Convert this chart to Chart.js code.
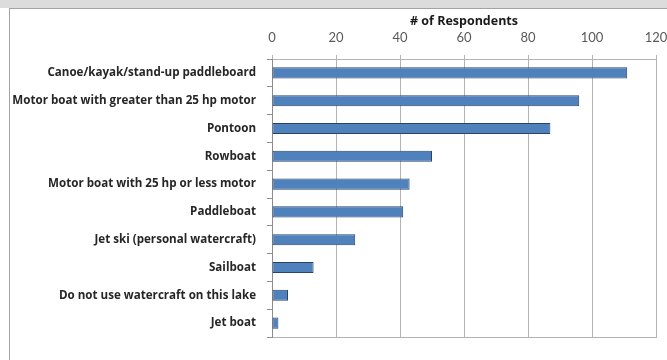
<!DOCTYPE html>
<html>
<head>
<meta charset="utf-8">
<script src="https://cdn.jsdelivr.net/npm/chart.js@4.4.1/dist/chart.umd.min.js"></script>
<style>
  html, body { margin: 0; padding: 0; background: #ffffff; }
  #page { position: relative; width: 667px; height: 360px; overflow: hidden; background: #ffffff; }
  #band { position: absolute; left: 0; top: 0; width: 667px; height: 8px; background: #dcdcdc; }
  #frame { position: absolute; left: 9px; top: 8px; width: 700px; height: 400px;
           border-top: 1.5px solid #a3a3a3; border-left: 1.5px solid #a3a3a3; }
  canvas { position: absolute; left: 0; top: 0; }
</style>
</head>
<body>
<div id="page">
  <div id="band"></div>
  <div id="frame"></div>
  <canvas id="chart" width="667" height="360"></canvas>
</div>
<script>
// Watercraft used on the lake, by number of respondents
const categories = [
  'Canoe/kayak/stand-up paddleboard',
  'Motor boat with greater than 25 hp motor',
  'Pontoon',
  'Rowboat',
  'Motor boat with 25 hp or less motor',
  'Paddleboat',
  'Jet ski (personal watercraft)',
  'Sailboat',
  'Do not use watercraft on this lake',
  'Jet boat'
];
const respondents = [111, 96, 87, 50, 43, 41, 26, 13, 5, 2];
const axisTitle = '# of Respondents';
const axisMin = 0;
const axisMax = 120;
const axisStep = 20;

const gridGray = '#b4b4b4';
const axisGray = '#8c8c8c';

new Chart(document.getElementById('chart'), {
  type: 'bar',
  data: {
    labels: categories,
    datasets: [{
      data: respondents,
      backgroundColor: '#4f81bd',
      borderColor: '#2a4466',
      borderWidth: 1,
      borderSkipped: false,
      barPercentage: 0.4,
      categoryPercentage: 1.0
    }]
  },
  options: {
    indexAxis: 'y',
    responsive: false,
    devicePixelRatio: 1,
    animation: false,
    layout: { padding: { top: 0, left: 0, right: 11, bottom: 23 } },
    plugins: { legend: { display: false }, tooltip: { enabled: false } },
    scales: {
      x: {
        position: 'top',
        min: axisMin,
        max: axisMax,
        ticks: {
          stepSize: axisStep,
          padding: 9,
          color: '#595959',
          font: { family: 'Lato', size: 13 }
        },
        grid: { color: gridGray, lineWidth: 1, tickLength: 4, tickColor: gridGray },
        border: { display: true, color: gridGray, width: 1 },
        title: {
          display: true,
          text: axisTitle,
          color: '#1a1a1a',
          font: { family: 'Open Sans', size: 12.5, weight: 'bold' },
          padding: { top: 14, bottom: 0 }
        },
        afterFit: (scale) => {
          scale.height = 59;
          scale.paddingLeft = 0;
          scale.paddingRight = 0;
        }
      },
      xBottom: {
        axis: 'x',
        position: 'bottom',
        min: axisMin,
        max: axisMax,
        ticks: { display: false },
        grid: { display: true, drawOnChartArea: false, drawTicks: false },
        border: { display: true, color: gridGray, width: 1 },
        afterFit: (scale) => {
          scale.height = 0;
          scale.paddingLeft = 0;
          scale.paddingRight = 0;
        }
      },
      y: {
        ticks: {
          padding: 11,
          color: '#262626',
          font: { family: 'Open Sans', size: 11.6, weight: 'bold' }
        },
        grid: { offset: true, drawOnChartArea: false, tickLength: 5, tickColor: axisGray },
        border: { display: true, color: axisGray, width: 1 },
        afterFit: (scale) => {
          scale.width = 272;
          scale.paddingTop = 0;
          scale.paddingBottom = 0;
        }
      }
    }
  }
});
</script>
</body>
</html>
